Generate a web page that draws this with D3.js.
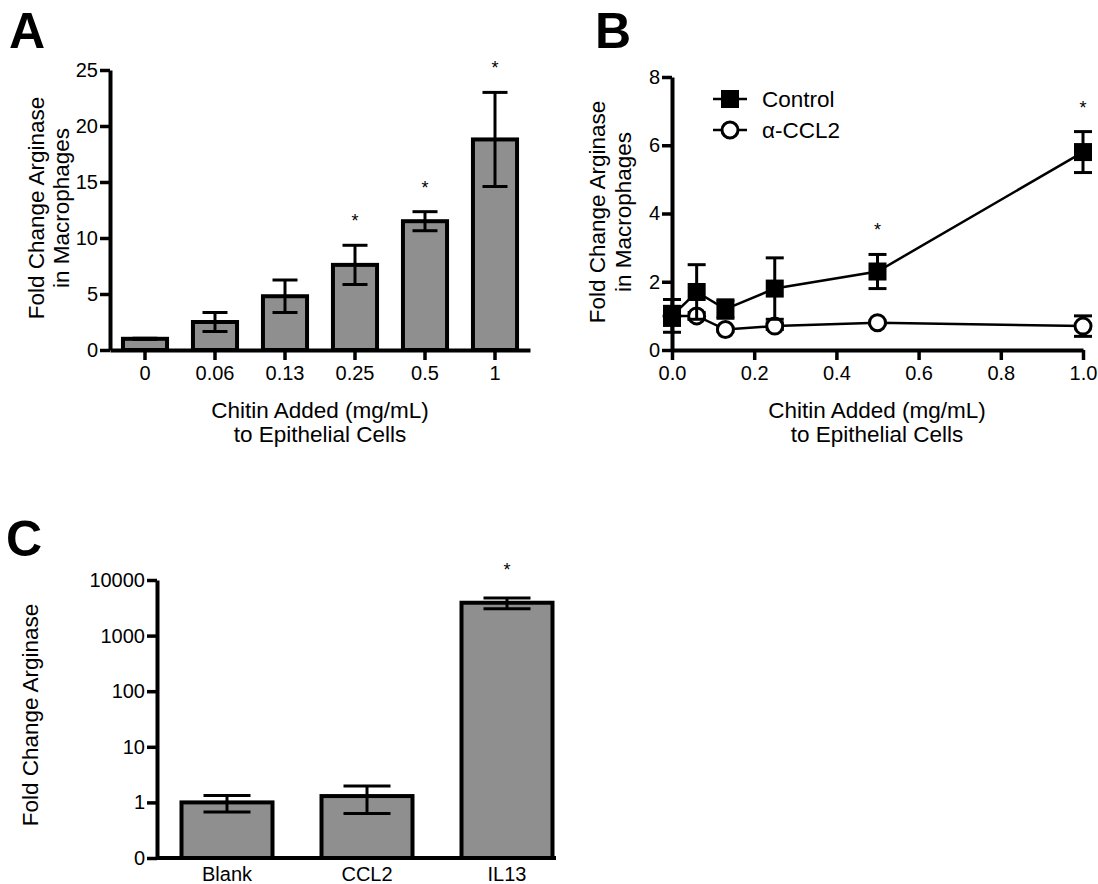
<!DOCTYPE html>
<html>
<head>
<meta charset="utf-8">
<title>Chitin - Arginase figure</title>
<script src="https://d3js.org/d3.v7.min.js"></script>
<style>
  body { margin: 0; background: #fff; }
  svg { display: block; font-family: "Liberation Sans", Arial, sans-serif; }
  .axis .domain { stroke: #000; stroke-width: 4px; }
  .axis .tick line { stroke: #000; stroke-width: 3.5px; }
  .axis .tick text { font-size: 20px; fill: #000; font-family: "Liberation Sans", Arial, sans-serif; }
  .title { font-size: 22.5px; fill: #000; }
  .panel { font-size: 50px; font-weight: bold; fill: #000; }
  .star { font-size: 18px; fill: #000; }
  .bar { fill: #8f8f8f; stroke: #000; stroke-width: 4px; }
  .err { stroke: #000; stroke-width: 3px; fill: none; }
</style>
</head>
<body>
<svg id="fig" width="1098" height="884"></svg>
<script>
// ---- panel A: bars, fold change vs chitin dose
var chitinLabels = ["0", "0.06", "0.13", "0.25", "0.5", "1"];
var chitinMean = [1.0, 2.5, 4.8, 7.6, 11.5, 18.8];
var chitinSem = [0.05, 0.85, 1.45, 1.75, 0.85, 4.2];
var chitinSig = [false, false, false, true, true, true];
var ticksA = [0, 5, 10, 15, 20, 25];

// ---- panel B: control vs anti-CCL2
var doses = [0, 0.06, 0.13, 0.25, 0.5, 1.0];
var controlMean = [1.0, 1.7, 1.2, 1.8, 2.3, 5.8];
var controlSem = [0.48, 0.8, 0.27, 0.9, 0.5, 0.6];
var ccl2Mean = [1.0, 1.0, 0.6, 0.7, 0.8, 0.7];
var ccl2Sem = [0.28, 0.1, 0.05, 0.1, 0.05, 0.3];
var controlSig = [false, false, false, false, true, true];
var ticksBx = [0, 0.2, 0.4, 0.6, 0.8, 1.0];
var ticksBy = [0, 2, 4, 6, 8];

// ---- panel C: log bars
var groups = ["Blank", "CCL2", "IL13"];
var foldMean = [1.0, 1.3, 3900];
var foldSem = [0.33, 0.67, 850];
var foldSig = [false, false, true];
var ticksC = [0.1, 1, 10, 100, 1000, 10000];

var svg = d3.select("#fig");

function errorBar(g, x, yLo, yHi, w) {
  g.append("line").attr("class", "err")
    .attr("x1", x).attr("x2", x).attr("y1", yLo).attr("y2", yHi);
  [yLo, yHi].forEach(function(y) {
    g.append("line").attr("class", "err")
      .attr("x1", x - w / 2).attr("x2", x + w / 2).attr("y1", y).attr("y2", y);
  });
}

function rotTitle(lines, xs, cy) {
  lines.forEach(function(t, i) {
    svg.append("text").attr("class", "title")
      .attr("text-anchor", "middle")
      .attr("transform", "translate(" + xs[i] + "," + cy + ") rotate(-90)")
      .text(t);
  });
}

function xTitle(lines, cx, ys) {
  lines.forEach(function(t, i) {
    svg.append("text").attr("class", "title")
      .attr("text-anchor", "middle")
      .attr("x", cx).attr("y", ys[i])
      .text(t);
  });
}

// ================= A =================
var xA = d3.scaleBand().domain(chitinLabels).range([110, 530])
  .paddingInner(0.37).paddingOuter(0.185);
var yA = d3.scaleLinear().domain([0, 25]).range([350, 70]);

var gA = svg.append("g");
gA.selectAll("rect.bar").data(chitinMean).enter().append("rect")
  .attr("class", "bar")
  .attr("x", function(d, i) { return xA(chitinLabels[i]); })
  .attr("width", xA.bandwidth())
  .attr("y", function(d) { return yA(d); })
  .attr("height", function(d) { return yA(0) - yA(d); });

chitinMean.forEach(function(m, i) {
  var cx = xA(chitinLabels[i]) + xA.bandwidth() / 2;
  errorBar(gA, cx, yA(m - chitinSem[i]), yA(m + chitinSem[i]), 25);
  if (chitinSig[i]) {
    gA.append("text").attr("class", "star").attr("text-anchor", "middle")
      .attr("x", cx).attr("y", yA(m + chitinSem[i]) - 18).text("*");
  }
});

svg.append("g").attr("class", "axis").attr("transform", "translate(0,350)")
  .call(d3.axisBottom(xA).tickSizeInner(10).tickSizeOuter(0).tickPadding(6));
svg.append("g").attr("class", "axis").attr("transform", "translate(110,0)")
  .call(d3.axisLeft(yA).tickValues(ticksA).tickSizeInner(10).tickSizeOuter(0).tickPadding(2));

rotTitle(["Fold Change Arginase", "in Macrophages"], [44, 69], 208);
xTitle(["Chitin Added (mg/mL)", "to Epithelial Cells"], 320, [418, 442]);
svg.append("text").attr("class", "panel").attr("x", 9).attr("y", 48).text("A");

// ================= B =================
var xB = d3.scaleLinear().domain([0, 1]).range([672, 1083]);
var yB = d3.scaleLinear().domain([0, 8]).range([350, 77]);

svg.append("g").attr("class", "axis").attr("transform", "translate(0,350)")
  .call(d3.axisBottom(xB).tickValues(ticksBx).tickFormat(d3.format(".1f"))
    .tickSizeInner(10).tickSizeOuter(0).tickPadding(6));
svg.append("g").attr("class", "axis").attr("transform", "translate(672,0)")
  .call(d3.axisLeft(yB).tickValues(ticksBy).tickSizeInner(10).tickSizeOuter(0).tickPadding(2));

var gB = svg.append("g");
var lineB = d3.line().x(function(d) { return xB(d[0]); }).y(function(d) { return yB(d[1]); });

// alpha-CCL2 series (under control)
gB.append("path").attr("d", lineB(d3.zip(doses, ccl2Mean)))
  .attr("fill", "none").attr("stroke", "#000").attr("stroke-width", 2.5);
doses.forEach(function(x, i) {
  errorBar(gB, xB(x), yB(ccl2Mean[i] - ccl2Sem[i]), yB(ccl2Mean[i] + ccl2Sem[i]), 18);
});
gB.selectAll("circle.ccl2").data(ccl2Mean).enter().append("circle")
  .attr("cx", function(d, i) { return xB(doses[i]); })
  .attr("cy", function(d) { return yB(d); })
  .attr("r", 8).attr("fill", "#fff").attr("stroke", "#000").attr("stroke-width", 3);

// control series
gB.append("path").attr("d", lineB(d3.zip(doses, controlMean)))
  .attr("fill", "none").attr("stroke", "#000").attr("stroke-width", 2.5);
doses.forEach(function(x, i) {
  errorBar(gB, xB(x), yB(controlMean[i] - controlSem[i]), yB(controlMean[i] + controlSem[i]), 18);
  if (controlSig[i]) {
    gB.append("text").attr("class", "star").attr("text-anchor", "middle")
      .attr("x", xB(x)).attr("y", yB(controlMean[i] + controlSem[i]) - 18).text("*");
  }
});
gB.selectAll("rect.ctrl").data(controlMean).enter().append("rect")
  .attr("x", function(d, i) { return xB(doses[i]) - 9; })
  .attr("y", function(d) { return yB(d) - 9; })
  .attr("width", 18).attr("height", 18).attr("fill", "#000");

// legend
var leg = svg.append("g");
leg.append("line").attr("x1", 713).attr("x2", 747).attr("y1", 99).attr("y2", 99)
  .attr("stroke", "#000").attr("stroke-width", 2.5);
leg.append("rect").attr("x", 721).attr("y", 90).attr("width", 18).attr("height", 18).attr("fill", "#000");
leg.append("text").attr("class", "title").attr("x", 762).attr("y", 107).text("Control");
leg.append("line").attr("x1", 713).attr("x2", 747).attr("y1", 130).attr("y2", 130)
  .attr("stroke", "#000").attr("stroke-width", 2.5);
leg.append("circle").attr("cx", 730).attr("cy", 130).attr("r", 8)
  .attr("fill", "#fff").attr("stroke", "#000").attr("stroke-width", 3);
leg.append("text").attr("class", "title").attr("x", 762).attr("y", 138).text("α-CCL2");

rotTitle(["Fold Change Arginase", "in Macrophages"], [605, 631], 212);
xTitle(["Chitin Added (mg/mL)", "to Epithelial Cells"], 877, [418, 442]);
svg.append("text").attr("class", "panel").attr("x", 595).attr("y", 48).text("B");

// ================= C =================
var xC = d3.scaleBand().domain(groups).range([157, 577])
  .paddingInner(0.35).paddingOuter(0.175);
var yC = d3.scaleLog().domain([0.1, 10000]).range([858, 580]);

var gC = svg.append("g");
gC.selectAll("rect.bar").data(foldMean).enter().append("rect")
  .attr("class", "bar")
  .attr("x", function(d, i) { return xC(groups[i]); })
  .attr("width", xC.bandwidth())
  .attr("y", function(d) { return yC(d); })
  .attr("height", function(d) { return yC(0.1) - yC(d); });

foldMean.forEach(function(m, i) {
  var cx = xC(groups[i]) + xC.bandwidth() / 2;
  errorBar(gC, cx, yC(m - foldSem[i]), yC(m + foldSem[i]), 47);
  if (foldSig[i]) {
    gC.append("text").attr("class", "star").attr("text-anchor", "middle")
      .attr("x", cx).attr("y", yC(m + foldSem[i]) - 22).text("*");
  }
});

var axC = svg.append("g").attr("class", "axis").attr("transform", "translate(0,858)")
  .call(d3.axisBottom(xC).tickSize(0).tickPadding(9));
axC.select(".domain").remove();
svg.append("line").attr("x1", 157).attr("x2", 556).attr("y1", 858).attr("y2", 858)
  .attr("stroke", "#000").attr("stroke-width", 4);
svg.append("g").attr("class", "axis").attr("transform", "translate(157,0)")
  .call(d3.axisLeft(yC).tickValues(ticksC)
    .tickFormat(function(d) { return d < 1 ? "0" : d3.format("d")(d); })
    .tickSizeInner(10).tickSizeOuter(0).tickPadding(2));

rotTitle(["Fold Change Arginase"], [38], 715);
svg.append("text").attr("class", "panel").attr("x", 6).attr("y", 556).text("C");
</script>
</body>
</html>
